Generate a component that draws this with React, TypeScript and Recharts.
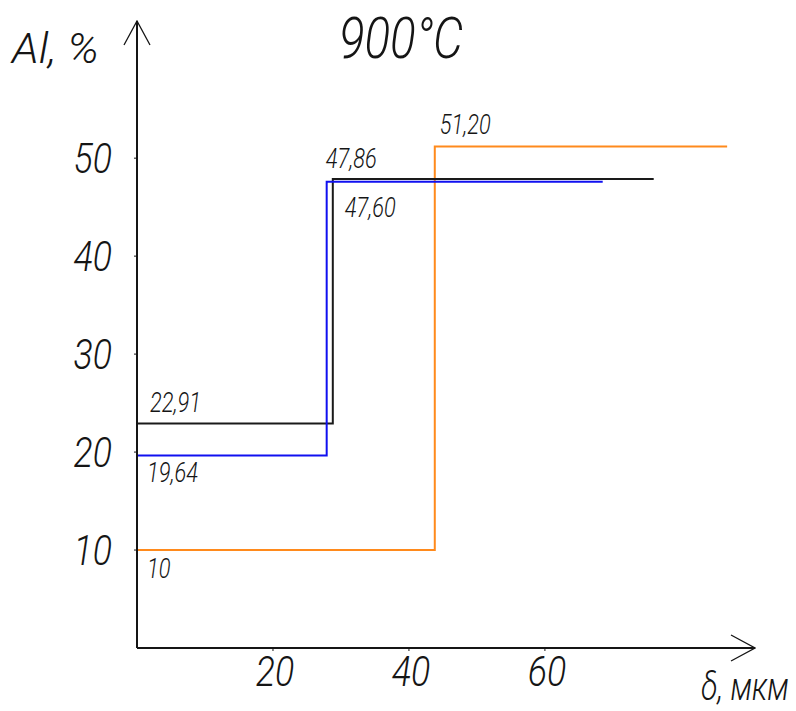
import { LabelList, Line, LineChart, XAxis, YAxis } from "recharts";

const FONT = "Roboto, 'Open Sans', sans-serif";
const INK = "#151515";

// толщина слоя δ, мкм — содержание Al, %
const orangeX = [0, 43.8, 86.8];
const orangeY = [10, 51.2, 51.2];
const blackX = [0, 28.8, 76];
const blackY = [22.91, 47.86, 47.86];
const blueX = [0, 27.9, 68.5];
const blueY = [19.64, 47.6, 47.6];

const xTicks = [20, 40, 60];
const yTicks = [10, 20, 30, 40, 50];

const toPoints = (xs: number[], ys: number[]) => xs.map((x, i) => ({ x, y: ys[i] }));

const fmt = (v: number) => (Number.isInteger(v) ? String(v) : v.toFixed(2).replace(".", ","));

// подписи значений: смещение от точки ступеньки [первая, вторая]
const SERIES = [
  { key: "orange", data: toPoints(orangeX, orangeY), color: "#ff8a1c", offs: [[10, 28], [5, -12]] },
  { key: "black", data: toPoints(blackX, blackY), color: "#1a1a1a", offs: [[13, -12], [-7, -11]] },
  { key: "blue", data: toPoints(blueX, blueY), color: "#1010f0", offs: [[10, 26], [18, 35]] },
];

// узкий наклонный шрифт "под ГОСТ": сжимаем по горизонтали
function G({ x, y, size, sx = 0.8, anchor = "start", children }: any) {
  return (
    <text
      transform={`translate(${x},${y}) scale(${sx},1)`}
      textAnchor={anchor}
      fontSize={size}
      fontFamily={FONT}
      fontWeight={300}
      fontStyle="italic"
      fill={INK}
    >
      {children}
    </text>
  );
}

function stepLabel(offs: number[][]) {
  return (p: any) => {
    if (p.index > 1 || p.value == null) return null;
    const [dx, dy] = offs[p.index];
    return (
      <G x={p.x + dx} y={p.y + dy} size={28} sx={0.78}>
        {fmt(Number(p.value))}
      </G>
    );
  };
}

const XTick = (p: any) => (
  <G x={p.x + 2} y={p.y + 31} size={42} sx={0.85} anchor="middle">
    {p.payload.value}
  </G>
);

const YTick = (p: any) => (
  <G x={p.x} y={p.y + 15} size={42} sx={0.85} anchor="end">
    {p.payload.value}
  </G>
);

export default function App() {
  return (
    <div style={{ position: "absolute", left: 0, top: 0, background: "#fff" }}>
      <LineChart width={796} height={711} margin={{ top: 21, right: 41, left: 0, bottom: 0 }}>
        <defs>
          <marker
            id="arrow"
            viewBox="0 0 26 28"
            refX={25}
            refY={14}
            markerWidth={26}
            markerHeight={28}
            markerUnits="userSpaceOnUse"
            orient="auto-start-reverse"
          >
            <path d="M1,1 L25,14 L1,27" fill="none" stroke={INK} strokeWidth={1.3} />
          </marker>
        </defs>
        <XAxis
          dataKey="x"
          type="number"
          domain={[0, 90.9]}
          ticks={xTicks}
          height={63}
          axisLine={{ stroke: INK, strokeWidth: 2, markerEnd: "url(#arrow)" }}
          tickLine={{ stroke: INK }}
          tickSize={3}
          tickMargin={4}
          tick={<XTick />}
        />
        <YAxis
          type="number"
          domain={[0, 64]}
          ticks={yTicks}
          width={137}
          axisLine={{ stroke: INK, strokeWidth: 2, markerStart: "url(#arrow)" }}
          tickLine={{ stroke: INK }}
          tickSize={3}
          tickMargin={22}
          tick={<YTick />}
        />
        {SERIES.map((s) => (
          <Line
            key={s.key}
            data={s.data}
            dataKey="y"
            type="stepAfter"
            stroke={s.color}
            strokeWidth={2}
            dot={false}
            activeDot={false}
            isAnimationActive={false}
          >
            <LabelList dataKey="y" content={stepLabel(s.offs)} />
          </Line>
        ))}
        <G x={401} y={58} size={58} sx={0.82} anchor="middle">
          900°C
        </G>
        <G x={12} y={63} size={42} sx={1.05}>
          Al, %
        </G>
        <G x={701} y={700} size={38} sx={0.8}>
          δ, мкм
        </G>
      </LineChart>
    </div>
  );
}
